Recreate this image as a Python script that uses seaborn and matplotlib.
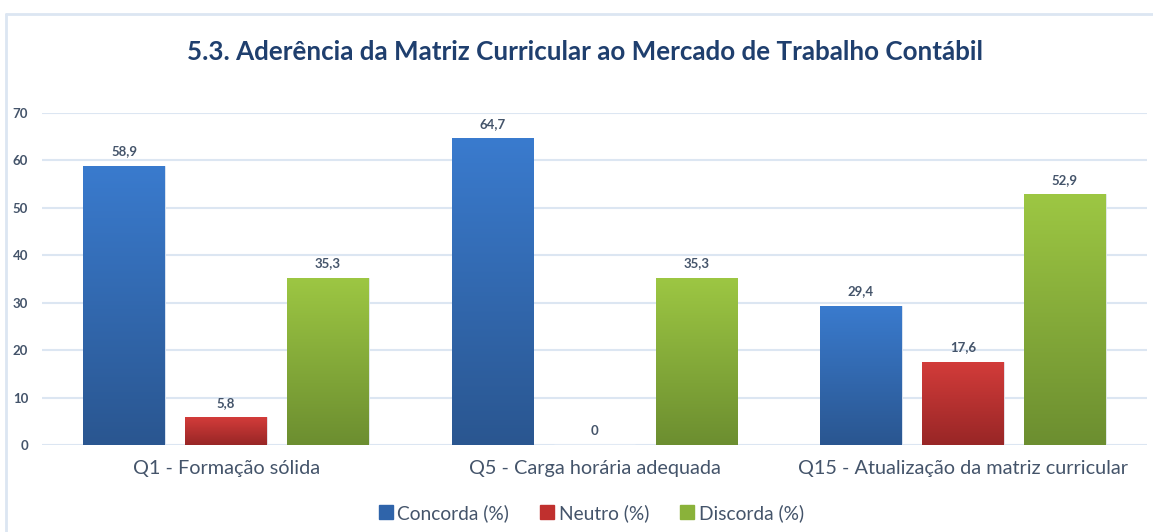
import numpy as np
import pandas as pd
import matplotlib
matplotlib.use("Agg")
import matplotlib.pyplot as plt
import seaborn as sns
from matplotlib.colors import LinearSegmentedColormap
from matplotlib.lines import Line2D

# ---- data ----
categories = ["Q1 - Formação sólida", "Q5 - Carga horária adequada",
              "Q15 - Atualização da matriz curricular"]
series = ["Concorda (%)", "Neutro (%)", "Discorda (%)"]
concorda = [58.9, 64.7, 29.4]
neutro = [5.8, 0.0, 17.6]
discorda = [35.3, 35.3, 52.9]
yticks = [0, 10, 20, 30, 40, 50, 60, 70]
title = "5.3. Aderência da Matriz Curricular ao Mercado de Trabalho Contábil"

# colours: (bottom, top) of gradient, and legend colour
grad = {
    "Concorda (%)": ("#2A5690", "#3A7BCE"),
    "Neutro (%)": ("#982626", "#D33C3A"),
    "Discorda (%)": ("#6C8E30", "#9DC743"),
}
legend_col = {"Concorda (%)": "#2F64AA", "Neutro (%)": "#C0302E", "Discorda (%)": "#8AB23A"}
text_col = "#44546A"

sns.set_theme(style="white")
plt.rcParams['font.family'] = ['Lato', 'DejaVu Sans']

rows = []
for s, vals in zip(series, [concorda, neutro, discorda]):
    for c, v in zip(categories, vals):
        rows.append({"cat": c, "serie": s, "val": v})
df = pd.DataFrame(rows)

W, H = 1153, 532
fig = plt.figure(figsize=(W / 100, H / 100), dpi=100)
fig.patch.set_facecolor("white")
left, right, bottom, top = 42, 1147, 445, 113
ax = fig.add_axes([left / W, 1 - bottom / H, (right - left) / W, (bottom - top) / H])

sns.barplot(data=df, x="cat", y="val", hue="serie", hue_order=series,
            palette={s: legend_col[s] for s in series}, saturation=1,
            width=0.83, gap=0.2, ax=ax, legend=False, errorbar=None)

ax.set_ylim(0, 70)
ax.set_xlim(-0.5, 2.5)
ax.set_yticks(yticks)
ax.set_yticklabels([str(t) for t in yticks])
ax.yaxis.grid(True, color="#DCE6F2", lw=1.5)
ax.set_axisbelow(True)
for sp in ax.spines.values():
    sp.set_visible(False)
ax.set_xlabel("")
ax.set_ylabel("")
ax.tick_params(axis="y", length=0, pad=10, labelsize=9.5, labelcolor=text_col)
ax.tick_params(axis="x", length=0, pad=11, labelsize=14.3, labelcolor=text_col)
for lab in ax.get_yticklabels():
    lab.set_fontweight("bold")

# gradient fill of bars
for s, cont in zip(series, ax.containers):
    cmap = LinearSegmentedColormap.from_list(s, list(grad[s]))
    for p in cont.patches:
        h = p.get_height()
        if h <= 0:
            continue
        x0 = p.get_x()
        w = p.get_width()
        g = np.linspace(0, 1, 256).reshape(-1, 1)
        im = ax.imshow(g, extent=[x0, x0 + w, 0, h], origin="lower", cmap=cmap,
                       aspect="auto", zorder=p.get_zorder() + 0.1)
        im.set_clip_path(p)
        p.set_edgecolor("#E6ECF5")
        p.set_linewidth(0.6)
    labels = [("0" if v == 0 else f"{v:.1f}".replace(".", ",")) for v in cont.datavalues]
    ax.bar_label(cont, labels=labels, padding=6, fontsize=9.5, fontweight="bold",
                 color=text_col)

ax.set_xlim(-0.5, 2.5)
ax.set_ylim(0, 70)

# title
fig.text(585 / W, 1 - 52 / H, title, ha="center", va="center", fontsize=18.7,
         fontweight="bold", color="#1F3F6E")

# legend
handles = [Line2D([], [], marker="s", linestyle="none", markersize=10,
                  markerfacecolor=legend_col[s], markeredgecolor=legend_col[s]) for s in series]
fig.legend(handles, series, loc="center", bbox_to_anchor=(590 / W, 1 - 513 / H), ncol=3,
           frameon=False, fontsize=13.8, handletextpad=0.1, columnspacing=1.5,
           handlelength=1.0, labelcolor=text_col)

# outer frame lines
fig.add_artist(Line2D([6 / W, 6 / W], [0, 1 - 14 / H], transform=fig.transFigure,
                      color="#DCE6F2", lw=2))
fig.add_artist(Line2D([6 / W, 1], [1 - 14 / H, 1 - 14 / H], transform=fig.transFigure,
                      color="#DCE6F2", lw=2))

fig.savefig("out.png", dpi=100)
